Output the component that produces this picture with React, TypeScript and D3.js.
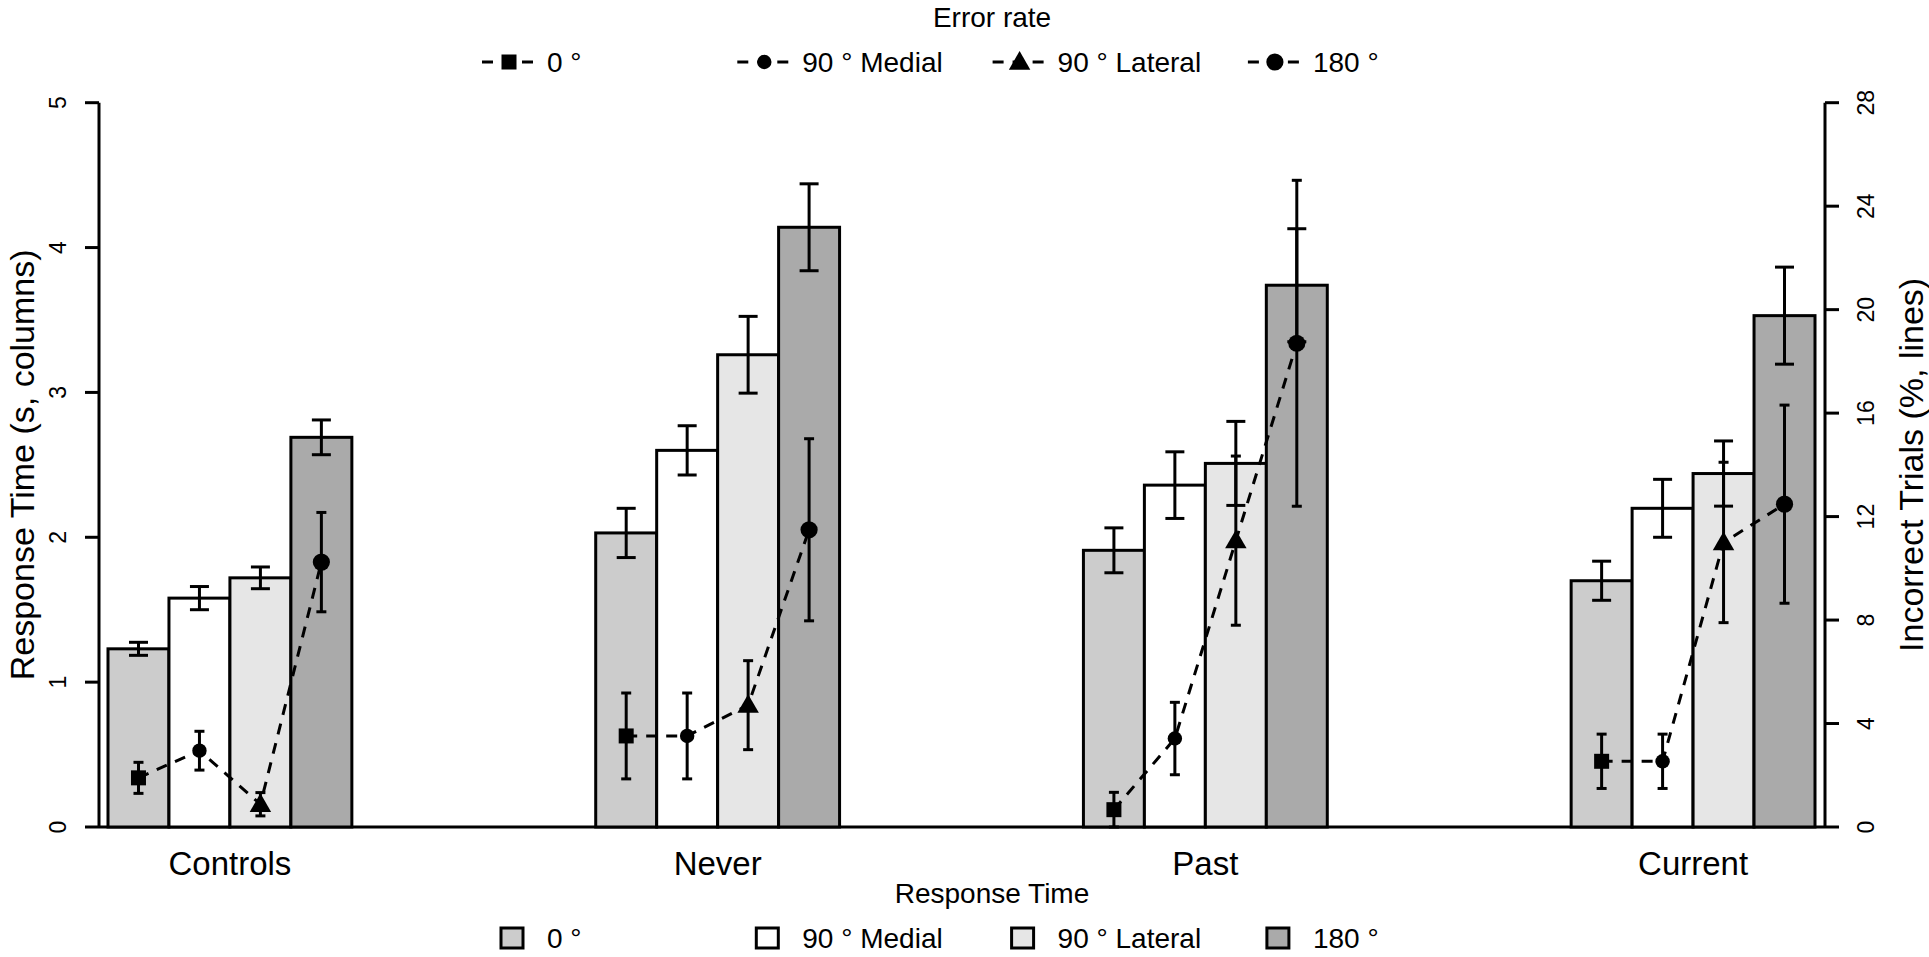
import * as d3 from "d3";

const groups = ["Controls", "Never", "Past", "Current"];
const conditions = ["0 °", "90 ° Medial", "90 ° Lateral", "180 °"];
const barFills = ["#cccccc", "#ffffff", "#e6e6e6", "#aaaaaa"];
const markerShapes = ["square", "smallCircle", "triangle", "circle"];

// response time (s), one row per group, one value per condition
const rtMean = [
  [1.23, 1.58, 1.72, 2.69],
  [2.03, 2.6, 3.26, 4.14],
  [1.91, 2.36, 2.51, 3.74],
  [1.7, 2.2, 2.44, 3.53],
];
const rtErr = [
  [0.045, 0.08, 0.075, 0.12],
  [0.17, 0.17, 0.265, 0.3],
  [0.155, 0.23, 0.29, 0.39],
  [0.135, 0.2, 0.225, 0.335],
];

// incorrect trials (%)
const errMean = [
  [1.9, 2.95, 0.88, 10.24],
  [3.52, 3.52, 4.71, 11.49],
  [0.67, 3.42, 11.07, 18.7],
  [2.54, 2.54, 11.0, 12.48],
];
const errErr = [
  [0.6, 0.75, 0.45, 1.92],
  [1.66, 1.66, 1.72, 3.52],
  [0.67, 1.4, 3.27, 6.3],
  [1.05, 1.05, 3.1, 3.83],
];

const rtTicks = [0, 1, 2, 3, 4, 5];
const errTicks = [0, 4, 8, 12, 16, 20, 24, 28];

const W = 1929;
const H = 957;
const FONT = "'Liberation Sans', Arial, Helvetica, sans-serif";
const GROUP_STEP = 8; // 4 bars + 4 bar widths of space

function Marker({ shape, x, y }: { shape: string; x: number; y: number }) {
  if (shape === "square") return <rect x={x - 7.5} y={y - 7.5} width={15} height={15} fill="#000" />;
  if (shape === "smallCircle") return <circle cx={x} cy={y} r={7.2} fill="#000" />;
  if (shape === "circle") return <circle cx={x} cy={y} r={8.6} fill="#000" />;
  const p = d3.symbol(d3.symbolTriangle, 200)() as string;
  return <path d={p} transform={`translate(${x},${y + 1.5})`} fill="#000" />;
}

export default function App() {
  const x = d3.scaleLinear().domain([0, groups.length * GROUP_STEP - 4]).range([108, 1815]);
  const yRt = d3.scaleLinear().domain([0, 5]).range([827, 102.7]);
  const yErr = d3.scaleLinear().domain([0, 28]).range([827, 102.7]);
  const bw = x(1) - x(0);
  const line = d3
    .line<number>()
    .x((_, j) => x(j + 0.5))
    .y((d) => yErr(d));

  const axisLeft = x.range()[0] - 9;
  const axisRight = 1825;
  const legendX = (i: number) => 482 + i * 255.3;

  return (
    <svg width={W} height={H} style={{ position: "absolute", left: 0, top: 0, background: "#fff" }} fontFamily={FONT}>
      {/* top legend: error rate */}
      <text x={992} y={27} fontSize={28} textAnchor="middle">Error rate</text>
      {conditions.map((c, i) => (
        <g key={c}>
          <line x1={legendX(i)} x2={legendX(i) + 55} y1={62} y2={62} stroke="#000" strokeWidth={3} strokeDasharray="11 9" />
          <Marker shape={markerShapes[i]} x={legendX(i) + 27} y={62} />
          <text x={legendX(i) + 65} y={72} fontSize={28}>{c}</text>
        </g>
      ))}

      {/* baseline */}
      <line x1={axisLeft} x2={axisRight} y1={yRt(0)} y2={yRt(0)} stroke="#000" strokeWidth={3} />

      {/* bars */}
      {groups.map((g, gi) =>
        rtMean[gi].map((v, j) => {
          const x0 = x(gi * GROUP_STEP + j);
          return (
            <rect key={`${g}-${j}`} x={x0} y={yRt(v)} width={bw} height={yRt(0) - yRt(v)} fill={barFills[j]} stroke="#000" strokeWidth={3} />
          );
        })
      )}

      {/* RT error bars */}
      {groups.map((g, gi) =>
        rtMean[gi].map((v, j) => {
          const cx = x(gi * GROUP_STEP + j + 0.5);
          const hi = yRt(v + rtErr[gi][j]);
          const lo = yRt(v - rtErr[gi][j]);
          return (
            <g key={`rte-${g}-${j}`} stroke="#000" strokeWidth={3}>
              <line x1={cx} x2={cx} y1={hi} y2={lo} />
              <line x1={cx - 9.5} x2={cx + 9.5} y1={hi} y2={hi} />
              <line x1={cx - 9.5} x2={cx + 9.5} y1={lo} y2={lo} />
            </g>
          );
        })
      )}

      {/* error-rate lines */}
      {groups.map((g, gi) => (
        <g key={`ln-${g}`} transform={`translate(${x(gi * GROUP_STEP) - x(0)},0)`}>
          <path d={line(errMean[gi]) as string} fill="none" stroke="#000" strokeWidth={3} strokeDasharray="11 9" />
        </g>
      ))}
      {groups.map((g, gi) =>
        errMean[gi].map((v, j) => {
          const cx = x(gi * GROUP_STEP + j + 0.5);
          const hi = yErr(v + errErr[gi][j]);
          const lo = yErr(Math.max(0, v - errErr[gi][j]));
          return (
            <g key={`ere-${g}-${j}`}>
              <g stroke="#000" strokeWidth={3}>
                <line x1={cx} x2={cx} y1={hi} y2={lo} />
                <line x1={cx - 5} x2={cx + 5} y1={hi} y2={hi} />
                <line x1={cx - 5} x2={cx + 5} y1={lo} y2={lo} />
              </g>
              <Marker shape={markerShapes[j]} x={cx} y={yErr(v)} />
            </g>
          );
        })
      )}

      {/* left axis */}
      <line x1={axisLeft} x2={axisLeft} y1={yRt(5)} y2={yRt(0)} stroke="#000" strokeWidth={3} />
      {rtTicks.map((t) => (
        <g key={`lt-${t}`}>
          <line x1={axisLeft - 14} x2={axisLeft} y1={yRt(t)} y2={yRt(t)} stroke="#000" strokeWidth={3} />
          <text transform={`translate(58,${yRt(t)}) rotate(-90)`} dy="0.36em" textAnchor="middle" fontSize={23}>{t}</text>
        </g>
      ))}
      <text transform={`translate(22,${(yRt(0) + yRt(5)) / 2}) rotate(-90)`} dy="0.36em" textAnchor="middle" fontSize={34}>
        Response Time (s, columns)
      </text>

      {/* right axis */}
      <line x1={axisRight} x2={axisRight} y1={yErr(28)} y2={yErr(0)} stroke="#000" strokeWidth={3} />
      {errTicks.map((t) => (
        <g key={`rt-${t}`}>
          <line x1={axisRight} x2={axisRight + 14} y1={yErr(t)} y2={yErr(t)} stroke="#000" strokeWidth={3} />
          <text transform={`translate(1866,${yErr(t)}) rotate(-90)`} dy="0.36em" textAnchor="middle" fontSize={23}>{t}</text>
        </g>
      ))}
      <text transform={`translate(1911,${(yErr(0) + yErr(28)) / 2}) rotate(-90)`} dy="0.36em" textAnchor="middle" fontSize={34}>
        Incorrect Trials (%, lines)
      </text>

      {/* group labels */}
      {groups.map((g, gi) => (
        <text key={`gl-${g}`} x={x(gi * GROUP_STEP + 2)} y={875} textAnchor="middle" fontSize={33}>{g}</text>
      ))}

      {/* bottom legend: response time */}
      <text x={992} y={903} fontSize={28} textAnchor="middle">Response Time</text>
      {conditions.map((c, i) => (
        <g key={`bl-${c}`}>
          <rect x={legendX(i) + 19} y={928} width={22} height={20} fill={barFills[i]} stroke="#000" strokeWidth={3} />
          <text x={legendX(i) + 65} y={948} fontSize={28}>{c}</text>
        </g>
      ))}
    </svg>
  );
}
